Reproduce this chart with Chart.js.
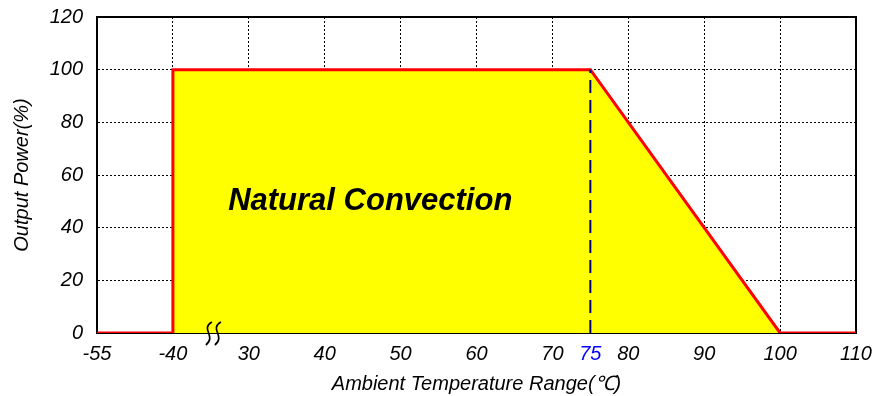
<!DOCTYPE html>
<html>
<script src="https://cdn.jsdelivr.net/npm/chart.js@4.4.0/dist/chart.umd.min.js"></script>
<body style="margin:0;background:#fff;">
<div style="width:882px;height:396px;"><canvas id="deratingChart" width="882" height="396"></canvas></div>

<script>
// curve points, real temperatures (C) and output power (%)
var temps = [-55, -40, -40, 75, 100, 110];
var power = [0, 0, 100, 100, 0, 0];
var markTemp = 75;              // dashed marker
var xTickValues = [-55, -40, 30, 40, 50, 60, 70, 75, 80, 90, 100, 110];
var yTicks = [0, 20, 40, 60, 80, 100, 120];
var areaLabel = 'Natural Convection';

// the axis is broken between -40 and 30: -55..-40 squeezed into 10..20
function toAxis(t) {
  if (t <= -40) return 20 + (t + 40) * 10 / 15;
  return t;
}
function fromAxis(v) {
  if (v <= 20) return Math.round(-40 + (v - 20) * 15 / 10);
  return v;
}

var curve = temps.map((t, i) => ({x: toAxis(t), y: power[i]}));
var marker = [{x: toAxis(markTemp), y: 0}, {x: toAxis(markTemp), y: 100}];

var extras = {
  id: 'extras',
  beforeDatasetsDraw(chart) {
    var ctx = chart.ctx, a = chart.chartArea;
    ctx.save();
    ctx.strokeStyle = '#000';
    ctx.lineWidth = 2;
    ctx.strokeRect(a.left, a.top, a.right - a.left, a.bottom - a.top);
    ctx.restore();
  },
  afterDatasetsDraw(chart) {
    var ctx = chart.ctx, xs = chart.scales.x, ys = chart.scales.y;
    ctx.save();
    // axis break
    var bx = xs.getPixelForValue(25.4), by = ys.getPixelForValue(0);
    ctx.strokeStyle = '#000';
    ctx.lineWidth = 1.7;
    [-5, 4].forEach(function (dx) {
      var x = bx + dx;
      ctx.beginPath();
      ctx.moveTo(x + 3, by - 11);
      ctx.bezierCurveTo(x - 9, by - 4, x + 8, by + 3, x - 3, by + 12);
      ctx.stroke();
    });
    // label in the area
    ctx.fillStyle = '#000';
    ctx.font = 'italic bold 31px "Liberation Sans", Arial, sans-serif';
    ctx.textAlign = 'center';
    ctx.textBaseline = 'middle';
    ctx.fillText(areaLabel, xs.getPixelForValue(46), ys.getPixelForValue(50));
    ctx.restore();
  }
};

var tickFont = {family: '"Liberation Sans", Arial, sans-serif', size: 20, style: 'italic'};

new Chart('deratingChart', {
  type: 'scatter',
  data: {
    datasets: [{
      data: curve,
      showLine: true,
      borderColor: '#ff0000',
      borderWidth: 3,
      backgroundColor: '#ffff00',
      fill: 'origin',
      pointRadius: 0,
      tension: 0,
      order: 2
    }, {
      data: marker,
      showLine: true,
      borderColor: '#000080',
      borderWidth: 2,
      borderDash: [13, 7],
      pointRadius: 0,
      fill: false,
      order: 1
    }]
  },
  options: {
    responsive: false,
    animation: false,
    layout: {padding: {left: 0, right: 26, top: 17, bottom: 0}},
    plugins: {legend: {display: false}, tooltip: {enabled: false}},
    scales: {
      x: {
        type: 'linear',
        min: 10, max: 110,
        afterBuildTicks: function (s) {
          s.ticks = xTickValues.map(t => ({value: toAxis(t)}));
        },
        afterFit: function (s) { s.height = 63; s.paddingLeft = 0; s.paddingRight = 0; },
        ticks: {
          autoSkip: false, maxRotation: 0, padding: 9,
          font: tickFont,
          color: ctx => ctx.tick && ctx.tick.value === markTemp ? '#0000ff' : '#000',
          callback: v => String(fromAxis(v))
        },
        grid: {
          drawTicks: false,
          color: ctx => (ctx.tick && ctx.tick.value === markTemp) ? 'rgba(0,0,0,0)' : '#000',
          lineWidth: 1
        },
        border: {display: true, color: '#000', width: 2, dash: [2, 2]},
        title: {display: true, text: 'Ambient Temperature Range(℃)', font: tickFont, color: '#000', padding: {top: 0, bottom: 0}}
      },
      y: {
        min: 0, max: 120,
        afterBuildTicks: function (s) { s.ticks = yTicks.map(v => ({value: v})); },
        afterFit: function (s) { s.width = 97; s.paddingTop = 0; s.paddingBottom = 0; },
        ticks: {padding: 14, font: tickFont, color: '#000'},
        grid: {drawTicks: false, color: '#000', lineWidth: 1},
        border: {display: true, color: '#000', width: 2, dash: [2, 2]},
        title: {display: true, text: 'Output Power(%)', font: tickFont, color: '#000', padding: {top: 10, bottom: 0}}
      }
    }
  },
  plugins: [extras]
});
</script>
</body>
</html>
